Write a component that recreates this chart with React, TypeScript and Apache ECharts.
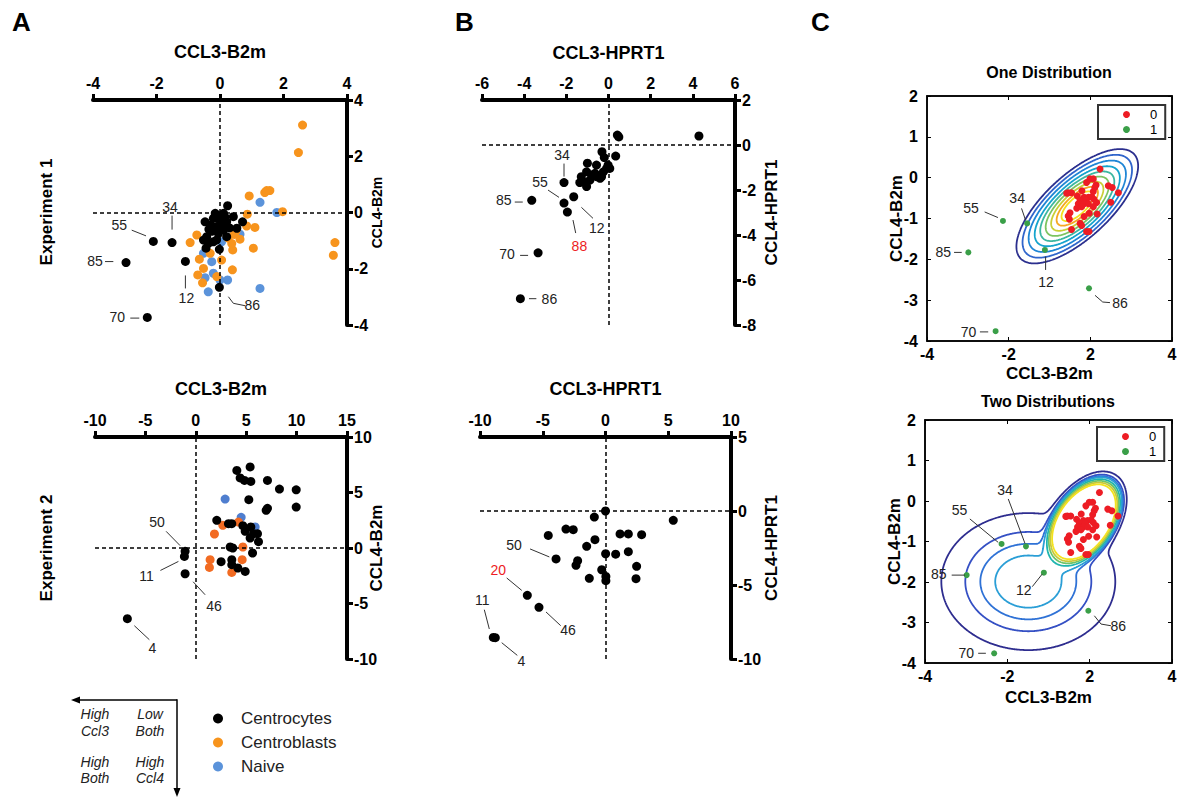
import React, { useEffect, useRef } from 'react';
import * as echarts from 'echarts';

// ================= DATA =================
// Panel A, Experiment 1 : CCL3-B2m (x) vs CCL4-B2m (y)
const A1_CENTROCYTES: [number, number][] = [
  [0.24, 0.24], [0.53, -0.56], [0.71, -0.33], [0.42, -0.15], [-0.02, -1.31], [-0.47, -0.33],
  [-0.42, -0.86], [-0.52, -0.98], [-0.44, -1.27], [-0.21, -1.04], [-0.11, -0.5], [0.0, -0.26],
  [0.11, -0.03], [-0.15, -0.03], [0.21, -0.86], [-0.26, -0.67], [0.11, -0.62], [-0.11, -0.98],
  [-0.37, -1.1], [0.05, -0.45], [0.21, -0.33], [-0.21, -0.21], [-0.05, -0.75], [-0.3, -0.45],
  [0.15, -0.15], [-0.35, -0.6], [0.3, -0.55], [-0.05, -0.12],
];
const A1_LABEL_IDS = ['34', '55', '85', '12', '86', '70'];
const A1_LABELED: [number, number][] = [
  [-1.51, -1.07], [-2.1, -1.03], [-2.96, -1.78], [-1.09, -1.74], [-0.02, -2.66], [-2.29, -3.73],
];
const A1_CENTROBLASTS: [number, number][] = [
  [2.6, 3.11], [2.47, 2.13], [1.47, 0.78], [1.57, 0.78], [1.41, 0.71], [0.92, 0.59], [1.97, 0.03],
  [0.86, -0.06], [0.84, -0.48], [1.1, -0.53], [3.62, -1.07], [3.57, -1.52], [1.05, -1.27],
  [0.63, -0.95], [0.4, -1.33], [0.37, -1.1], [0.39, -2.04], [0.05, -1.69], [-0.1, -2.28],
  [-0.52, -1.99], [-0.65, -1.66], [-0.7, -2.22], [-0.55, -2.5], [-0.94, -1.07], [-0.73, -0.8],
  [-0.31, -1.45], [0.45, -0.78], [0.5, -0.67], [0.26, -0.91],
];
const A1_NAIVE: [number, number][] = [
  [1.26, 0.36], [1.79, 0.0], [1.26, -2.7], [-0.37, -2.82], [0.24, -2.4], [0.0, -2.4], [-0.21, -2.16],
  [-0.47, -2.32], [-0.26, -1.75], [-0.52, -1.45], [0.63, -0.77], [0.05, -1.04],
];

// Panel A, Experiment 2
const A2_CENTROCYTES: [number, number][] = [
  [4.07, 6.99], [5.39, 7.3], [4.4, 6.31], [4.83, 6.09], [5.46, 6.0], [7.11, 6.09], [8.3, 5.31],
  [9.96, 5.24], [9.96, 3.69], [5.26, 4.35], [7.11, 3.57], [6.98, 3.39], [2.08, 2.49], [3.24, 2.19],
  [3.57, 2.19], [4.67, 2.01], [5.46, 1.89], [4.9, 1.5], [5.73, 1.29], [6.12, 1.29], [5.39, 0.9],
  [6.22, 0.57], [3.41, 0.09], [3.67, 0.0], [5.63, -0.45], [2.51, -1.23], [3.57, -1.05],
  [3.57, -1.5], [4.17, -1.8], [4.9, -2.11],
];
const A2_LABEL_IDS = ['50', '11', '46', '4'];
const A2_LABELED: [number, number][] = [[-1.06, -0.3], [-1.13, -0.76], [-1.06, -2.32], [-6.79, -6.37]];
const A2_CENTROBLASTS: [number, number][] = [
  [2.68, 2.04], [4.23, 2.34], [1.85, 1.26], [4.67, 0.09], [1.42, -1.05], [1.35, -1.75],
  [4.6, -1.05], [3.57, -2.2],
];
const A2_NAIVE: [number, number][] = [[2.91, 4.41], [4.5, 2.76], [5.89, 1.89]];

// Panel B, Experiment 1 : CCL3-HPRT1 vs CCL4-HPRT1
const B1_CELLS: [number, number][] = [
  [0.42, 0.44], [0.49, 0.36], [4.29, 0.4], [0.34, -0.49], [-0.31, -0.3], [-0.2, -0.56],
  [0.06, -1.04], [-0.02, -0.89], [-1.0, -0.81], [-0.57, -0.89], [-0.24, -1.19], [-0.64, -1.26],
  [-1.29, -1.41], [-1.36, -1.67], [-1.04, -1.85], [-0.88, -1.56], [-0.4, -1.48], [-1.04, -1.19],
  [-0.8, -1.33], [-1.2, -1.63], [-0.57, -1.41], [-0.33, -1.41], [-0.09, -1.04],
];
const B1_LABEL_IDS = ['34', '55', '85', '88', '12', '70', '86'];
const B1_LABELED: [number, number][] = [
  [-2.11, -1.67], [-2.11, -2.58], [-3.64, -2.46], [-1.95, -2.98], [-1.65, -2.3], [-3.34, -4.79],
  [-4.18, -6.83],
];
const B1_RED_IDS = ['88'];

// Panel B, Experiment 2
const B2_CELLS: [number, number][] = [
  [0, 0], [-0.89, -0.41], [5.4, -0.63], [-3.15, -1.22], [-2.57, -1.26], [-4.56, -1.65],
  [1.16, -1.55], [1.82, -1.55], [2.88, -1.6], [-0.84, -1.94], [-1.5, -2.39], [-2.22, -3.36],
  [-2.35, -3.67], [0.01, -2.89], [0.81, -2.92], [1.82, -2.75], [2.48, -3.74], [-0.3, -3.97],
  [0.03, -4.42], [0.03, -4.71], [-1.29, -4.55], [2.43, -4.57],
];
const B2_LABEL_IDS = ['50', '20', '46', '11', '4'];
const B2_LABELED: [number, number][] = [[-3.94, -3.24], [-6.23, -5.7], [-5.3, -6.51], [-8.94, -8.54], [-8.78, -8.56]];
const B2_RED_IDS = ['20'];

// Panel C : class 0 (cluster) and class 1 (outliers)
const C_CLASS0: [number, number][] = [
  [1.65, 0.21], [1.32, -0.03], [1.43, -0.03], [1.21, -0.12], [1.52, -0.18], [1.92, -0.2],
  [2.05, -0.24], [2.25, -0.37], [1.06, -0.32], [0.61, -0.37], [0.72, -0.37], [0.91, -0.45],
  [1.43, -0.34], [1.48, -0.24], [1.13, -0.48], [1.27, -0.48], [1.38, -0.47], [1.0, -0.55],
  [1.19, -0.55], [1.45, -0.53], [1.54, -0.61], [2.0, -0.6], [0.94, -0.64], [1.13, -0.64],
  [1.27, -0.64], [1.05, -0.71], [0.67, -0.86], [0.61, -0.94], [0.65, -1.02], [1.3, -0.87],
  [1.13, -0.95], [1.56, -0.89], [1.0, -1.12], [1.05, -1.17], [0.72, -1.27], [1.21, -1.32],
  [1.29, -1.32], [0.89, -0.75], [1.43, -0.71], [0.56, -0.38],
];
const C_CLASS1_IDS = ['55', '34', '12', '85', '86', '70'];
const C_CLASS1: [number, number][] = [
  [-1.52, -1.06], [-0.73, -1.12], [-0.15, -1.77], [-2.65, -1.83], [1.29, -2.71], [-1.76, -3.76],
];
const C_X_TICK_LABELS = ['-4', '-2', '2', '4'];

// Density models whose contours are drawn in panel C
// cov = [sxx, sxy, syy]
const C1_MEANS: [number, number][] = [[0.907, -0.7]];
const C1_COVS: [number, number, number][] = [[0.4377, 0.2172, 0.2174]];
const C1_PEAKS = [1];
const C1_LEVELS = [0.011, 0.026, 0.056, 0.11, 0.188, 0.296, 0.435, 0.594, 0.738];

const C2_MEANS: [number, number][] = [[1.15, -0.51], [-0.654, -1.99]];
const C2_COVS: [number, number, number][] = [[0.103, 0.0413, 0.0828], [1.678, 0, 0.605]];
const C2_PEAKS = [1000, 1];
const C2_LEVELS = [0.094, 0.289, 0.487, 0.71, 1.3, 2.2, 3.6, 6];

// ================= STYLE =================
const FONT = '"Liberation Sans", Arial, Helvetica, sans-serif';
const ORANGE_1 = '#F7941D';
const BLUE_1 = '#5B93DA';
const ORANGE_2 = '#F26B22';
const BLUE_2 = '#4F7ECF';
const RED = '#ED1C24';
const GREEN = '#3A9F48';
const C1_COLORS = ['#2b2f8e', '#3065cb', '#1e85d5', '#15a4cd', '#3db7a0', '#7cc460', '#c9cf35', '#f6a821', '#f4e01e'];
const C2_COLORS = ['#2e2d8f', '#3550c4', '#2f72d6', '#2a9ed6', '#1fb5ae', '#6ec46a', '#c8c83a', '#f3e21e'];

type Lay = { label: [number, number]; line: [number, number][] };
const A1_LAYOUT: Record<string, Lay> = {
  '34': { label: [-2, -36], line: [[0, -27], [0, -13]] },
  '55': { label: [-34, -16], line: [[-21.6, -11.3], [-7.3, -5.6]] },
  '85': { label: [-31, -2], line: [[-21, -1], [-12.7, -1]] },
  '12': { label: [1, 37], line: [[0, 14], [0, 27]] },
  '86': { label: [33, 18], line: [[9, 9.4], [14, 16], [25.7, 18.4]] },
  '70': { label: [-30, 0], line: [[-17, 0.7], [-8, 0.7]] },
};
const A2_LAYOUT: Record<string, Lay> = {
  '50': { label: [-28, -29], line: [[-19, -20], [-5, -5.7]] },
  '11': { label: [-38, 20], line: [[-24, 14], [-6, 5]] },
  '46': { label: [29, 32], line: [[8, 8], [20, 21]] },
  '4': { label: [25, 29], line: [[7, 7], [22, 21]] },
};
const B1_LAYOUT: Record<string, Lay> = {
  '34': { label: [-2, -28], line: [[0, -19], [0, -6]] },
  '55': { label: [-24, -21], line: [[-16, -13], [-5, -5.7]] },
  '85': { label: [-28, 0], line: [[-17, 1.7], [-9, 1.7]] },
  '88': { label: [12, 34], line: [[5.6, 8], [8.3, 21]] },
  '12': { label: [23, 31], line: [[7.7, 10.6], [19.3, 21.6]] },
  '70': { label: [-31, 1], line: [[-18, 2.6], [-10, 2.6]] },
  '86': { label: [29, 0.6], line: [[8.6, 0], [16, 0]] },
};
const B2_LAYOUT: Record<string, Lay> = {
  '50': { label: [-42, -14], line: [[-26, -10], [-6.7, -2]] },
  '20': { label: [-29, -25], line: [[-20.6, -17.4], [-5.6, -5]] },
  '46': { label: [29, 23], line: [[7, 4.6], [21.7, 18.3]] },
  '11': { label: [-11, -37], line: [[-9, -27.7], [-4, -8.4]] },
  '4': { label: [26, 23], line: [[6.4, 5], [22, 17.7]] },
};
const C1_LAYOUT: Record<string, Lay> = {
  '55': { label: [-32, -13], line: [[-18.3, -9], [-5, -3.4]] },
  '34': { label: [-10, -25], line: [[-5.6, -15], [-1.6, -3.3]] },
  '12': { label: [1, 32], line: [[0.7, 6.7], [0.7, 20]] },
  '85': { label: [-25, 0], line: [[-14.3, 0], [-6.6, 0]] },
  '86': { label: [31, 15], line: [[6, 7], [13.7, 13.7], [21, 14.3]] },
  '70': { label: [-27, 0.7], line: [[-15.7, 0.7], [-7.4, 0.7]] },
};
const C2_LAYOUT: Record<string, Lay> = {
  '55': { label: [-42, -34], line: [[-31.7, -25], [-3.4, -1.6]] },
  '34': { label: [-21, -56], line: [[-17.7, -47.4], [-1, -3]] },
  '12': { label: [-20, 17], line: [[-11.6, 14], [-1.6, 1.3]] },
  '85': { label: [-28, -1], line: [[-15, 0], [-1.7, 0]] },
  '86': { label: [30, 15], line: [[6, 5], [12.7, 13.3], [22.7, 15]] },
  '70': { label: [-28, -0.7], line: [[-16, 0], [-8.3, 0]] },
};

// ================= CONTOURS (marching squares) =================
const CASES: Record<number, number[][]> = {
  1: [[3, 0]], 2: [[0, 1]], 3: [[3, 1]], 4: [[1, 2]], 6: [[0, 2]], 7: [[3, 2]], 8: [[2, 3]],
  9: [[0, 2]], 11: [[1, 2]], 12: [[1, 3]], 13: [[0, 1]], 14: [[0, 3]],
};

function mixture(means: [number, number][], covs: [number, number, number][], peaks: number[]) {
  return (x: number, y: number) => {
    let s = 0;
    for (let k = 0; k < means.length; k++) {
      const [a, b, d] = covs[k];
      const det = a * d - b * b;
      const dx = x - means[k][0];
      const dy = y - means[k][1];
      const q = (d * dx * dx - 2 * b * dx * dy + a * dy * dy) / det;
      s += peaks[k] * Math.exp(-0.5 * q);
    }
    return s;
  };
}

function contourLines(f: (x: number, y: number) => number, levels: number[], colors: string[]) {
  const x0 = -4, x1 = 4, y0 = -4.2, y1 = 2.2, nx = 320, ny = 256;
  const dx = (x1 - x0) / nx, dy = (y1 - y0) / ny;
  const W = nx + 1;
  const g = new Float64Array(W * (ny + 1));
  for (let j = 0; j <= ny; j++) for (let i = 0; i <= nx; i++) g[j * W + i] = f(x0 + i * dx, y0 + j * dy);
  const V_OFF = (ny + 1) * W;
  const out: any[] = [];
  levels.forEach((L, li) => {
    const pts = new Map<number, [number, number]>();
    const point = (id: number): [number, number] => {
      let p = pts.get(id);
      if (p) return p;
      if (id < V_OFF) {
        const j = Math.floor(id / W), i = id % W;
        const a = g[j * W + i], b = g[j * W + i + 1];
        const t = (L - a) / (b - a);
        p = [x0 + (i + t) * dx, y0 + j * dy];
      } else {
        const k = id - V_OFF;
        const j = Math.floor(k / W), i = k % W;
        const a = g[j * W + i], b = g[(j + 1) * W + i];
        const t = (L - a) / (b - a);
        p = [x0 + i * dx, y0 + (j + t) * dy];
      }
      pts.set(id, p);
      return p;
    };
    const segs: [number, number][] = [];
    for (let j = 0; j < ny; j++) {
      for (let i = 0; i < nx; i++) {
        const v0 = g[j * W + i], v1 = g[j * W + i + 1], v2 = g[(j + 1) * W + i + 1], v3 = g[(j + 1) * W + i];
        const c = (v0 > L ? 1 : 0) | (v1 > L ? 2 : 0) | (v2 > L ? 4 : 0) | (v3 > L ? 8 : 0);
        if (c === 0 || c === 15) continue;
        const e = [j * W + i, V_OFF + j * W + i + 1, (j + 1) * W + i, V_OFF + j * W + i];
        let pairs: number[][];
        const mid = (v0 + v1 + v2 + v3) / 4 > L;
        if (c === 5) pairs = mid ? [[0, 1], [2, 3]] : [[3, 0], [1, 2]];
        else if (c === 10) pairs = mid ? [[3, 0], [1, 2]] : [[0, 1], [2, 3]];
        else pairs = CASES[c];
        for (const [a, b] of pairs) segs.push([e[a], e[b]]);
      }
    }
    const adj = new Map<number, number[]>();
    segs.forEach((s, idx) => {
      for (const k of s) {
        const l = adj.get(k);
        if (l) l.push(idx); else adj.set(k, [idx]);
      }
    });
    const used = new Uint8Array(segs.length);
    const nextFrom = (key: number) => {
      const l = adj.get(key) || [];
      for (const t of l) if (!used[t]) return t;
      return -1;
    };
    for (let s = 0; s < segs.length; s++) {
      if (used[s]) continue;
      used[s] = 1;
      const chain = [segs[s][0], segs[s][1]];
      let cur = segs[s][1];
      for (;;) {
        const n = nextFrom(cur);
        if (n < 0) break;
        used[n] = 1;
        cur = segs[n][0] === cur ? segs[n][1] : segs[n][0];
        chain.push(cur);
      }
      cur = segs[s][0];
      for (;;) {
        const n = nextFrom(cur);
        if (n < 0) break;
        used[n] = 1;
        cur = segs[n][0] === cur ? segs[n][1] : segs[n][0];
        chain.unshift(cur);
      }
      out.push({ coords: chain.map(point), lineStyle: { color: colors[li], width: 1.8, opacity: 1 } });
    }
  });
  return out;
}

// ================= HELPERS =================
const zeroLines = {
  silent: true,
  symbol: ['none', 'none'],
  label: { show: false },
  lineStyle: { color: '#000', type: [4, 3], width: 1.5 },
  emphasis: { disabled: true },
  data: [{ xAxis: 0 }, { yAxis: 0 }],
};

function scatter(name: string, axis: number, data: [number, number][], color: string, size: number, extra: any = {}) {
  return {
    type: 'scatter', name, xAxisIndex: axis, yAxisIndex: axis, data, symbol: 'circle', symbolSize: size,
    itemStyle: { color, opacity: 1 }, silent: true, z: 3, ...extra,
  };
}

function annoSeries(axis: number, ids: string[], pts: [number, number][], layout: Record<string, Lay>, red: string[] = []) {
  return {
    type: 'custom', name: 'labels' + axis, xAxisIndex: axis, yAxisIndex: axis, silent: true, z: 6,
    data: pts.map((p) => [p[0], p[1]]),
    renderItem: (params: any, api: any) => {
      const id = ids[params.dataIndex];
      const lay = layout[id];
      const c = api.coord([api.value(0), api.value(1)]);
      return {
        type: 'group',
        children: [
          {
            type: 'polyline',
            shape: { points: lay.line.map(([dx, dy]) => [c[0] + dx, c[1] + dy]) },
            style: { stroke: '#333', lineWidth: 1, fill: 'none' },
          },
          {
            type: 'text', x: c[0] + lay.label[0], y: c[1] + lay.label[1],
            style: {
              text: id, fill: red.includes(id) ? RED : '#222', font: `14px ${FONT}`,
              align: 'center', verticalAlign: 'middle', textAlign: 'center', textVerticalAlign: 'middle',
            },
          },
        ],
      };
    },
  };
}

const tickFont = { fontFamily: FONT, fontWeight: 'bold', fontSize: 16, color: '#000' };

function topX(grid: number, min: number, max: number, interval: number, name: string, nameGap: number) {
  return {
    gridIndex: grid, type: 'value', position: 'top', min, max, interval, name, nameLocation: 'middle', nameGap,
    nameMoveOverlap: false,
    nameTextStyle: { fontFamily: FONT, fontWeight: 'bold', fontSize: 18, color: '#000' },
    axisLine: { show: true, onZero: false, lineStyle: { color: '#000', width: 4 } },
    axisTick: { show: true, inside: false, length: 6, lineStyle: { color: '#000', width: 3 } },
    axisLabel: { ...tickFont, margin: 9, showMinLabel: true, showMaxLabel: true, hideOverlap: false },
    splitLine: { show: false },
  };
}
function rightY(grid: number, min: number, max: number, interval: number, name: string, nameGap: number, nameSize: number) {
  return {
    gridIndex: grid, type: 'value', position: 'right', min, max, interval, name, nameLocation: 'middle', nameGap,
    nameRotate: 90, nameMoveOverlap: false,
    nameTextStyle: { fontFamily: FONT, fontWeight: 'bold', fontSize: nameSize, color: '#000' },
    axisLine: { show: true, onZero: false, lineStyle: { color: '#000', width: 4 } },
    axisTick: { show: true, inside: false, length: 6, lineStyle: { color: '#000', width: 3 } },
    axisLabel: { ...tickFont, margin: 7, showMinLabel: true, showMaxLabel: true, hideOverlap: false },
    splitLine: { show: false },
  };
}

const C_X_TICKS = C_X_TICK_LABELS.map((_, i) => -4 + (i * 8) / (C_X_TICK_LABELS.length - 1));
const cXFormatter = (v: number) => {
  const i = C_X_TICKS.findIndex((t) => Math.abs(t - v) < 1e-6);
  return i >= 0 ? C_X_TICK_LABELS[i] : '';
};

function cBottomX(grid: number, nameGap: number) {
  return {
    gridIndex: grid, type: 'value', position: 'bottom', min: -4, max: 4, name: 'CCL3-B2m', nameLocation: 'middle',
    nameGap, nameMoveOverlap: false,
    nameTextStyle: { fontFamily: FONT, fontWeight: 'bold', fontSize: 17, color: '#000' },
    axisLine: { show: true, onZero: false, lineStyle: { color: '#000', width: 1.5 } },
    axisTick: { show: true, inside: true, length: 4, customValues: C_X_TICKS, lineStyle: { color: '#000', width: 1 } },
    axisLabel: { ...tickFont, margin: 5, customValues: C_X_TICKS, formatter: cXFormatter, showMinLabel: true, showMaxLabel: true, hideOverlap: false },
    splitLine: { show: false },
  };
}
function cTopX(grid: number) {
  return {
    gridIndex: grid, type: 'value', position: 'top', min: -4, max: 4,
    axisLine: { show: true, onZero: false, lineStyle: { color: '#000', width: 1.5 } },
    axisTick: { show: true, inside: true, length: 4, customValues: C_X_TICKS, lineStyle: { color: '#000', width: 1 } },
    axisLabel: { show: false },
    splitLine: { show: false },
  };
}
function cLeftY(grid: number) {
  return {
    gridIndex: grid, type: 'value', position: 'left', min: -4, max: 2, interval: 1, name: 'CCL4-B2m',
    nameLocation: 'middle', nameGap: 22, nameRotate: 90, nameMoveOverlap: false,
    nameTextStyle: { fontFamily: FONT, fontWeight: 'bold', fontSize: 17, color: '#000' },
    axisLine: { show: true, onZero: false, lineStyle: { color: '#000', width: 1.5 } },
    axisTick: { show: true, inside: true, length: 4, lineStyle: { color: '#000', width: 1 } },
    axisLabel: { ...tickFont, margin: 9, showMinLabel: true, showMaxLabel: true, hideOverlap: false },
    splitLine: { show: false },
  };
}
function cRightY(grid: number) {
  return {
    gridIndex: grid, type: 'value', position: 'right', min: -4, max: 2, interval: 1,
    axisLine: { show: true, onZero: false, lineStyle: { color: '#000', width: 1.5 } },
    axisTick: { show: true, inside: true, length: 4, lineStyle: { color: '#000', width: 1 } },
    axisLabel: { show: false },
    splitLine: { show: false },
  };
}

function contourSeries(axis: number, data: any[]) {
  return {
    type: 'lines', name: 'contours' + axis, coordinateSystem: 'cartesian2d', xAxisIndex: axis, yAxisIndex: axis,
    polyline: true, silent: true, z: 1, symbol: ['none', 'none'],
    lineStyle: { width: 1.8, opacity: 1 }, data,
  };
}

function cLegend(left: number, top: number) {
  return {
    data: ['0', '1'], orient: 'vertical', left, top, selectedMode: false, icon: 'circle',
    itemWidth: 7, itemHeight: 7, itemGap: 2,
    borderColor: '#333', borderWidth: 2, borderRadius: 0, padding: [3, 8, 3, 25],
    textStyle: { fontFamily: FONT, fontSize: 13, lineHeight: 13, color: '#000', padding: [0, 0, 0, 15] },
  };
}

function txt(text: string, x: number, y: number, font: string, extra: any = {}) {
  const { align = 'left', vAlign = 'top', rotation = 0, fill = '#000' } = extra;
  return {
    type: 'text', x, y, rotation, silent: true,
    style: { text, font, fill, align, verticalAlign: vAlign, textAlign: align, textVerticalAlign: vAlign },
  };
}

function buildOption() {
  const c1Lines = contourLines(mixture(C1_MEANS, C1_COVS, C1_PEAKS), C1_LEVELS, C1_COLORS);
  const c2Lines = contourLines(mixture(C2_MEANS, C2_COVS, C2_PEAKS), C2_LEVELS, C2_COLORS);
  const italic = `italic 14px ${FONT}`;
  return {
    animation: false,
    backgroundColor: '#ffffff',
    textStyle: { fontFamily: FONT },
    grid: [
      { left: 93, top: 100, width: 254, height: 225, outerBoundsMode: 'none' },
      { left: 95, top: 437, width: 252, height: 222, outerBoundsMode: 'none' },
      { left: 482, top: 100, width: 253, height: 225, outerBoundsMode: 'none' },
      { left: 480, top: 437, width: 251, height: 222, outerBoundsMode: 'none' },
      { left: 927, top: 96, width: 245, height: 245, outerBoundsMode: 'none', show: true, borderColor: '#000', borderWidth: 1.5, backgroundColor: 'transparent' },
      { left: 925, top: 420, width: 247, height: 243, outerBoundsMode: 'none', show: true, borderColor: '#000', borderWidth: 1.5, backgroundColor: 'transparent' },
    ],
    xAxis: [
      topX(0, -4, 4, 2, 'CCL3-B2m', 39),
      topX(1, -10, 15, 5, 'CCL3-B2m', 39),
      topX(2, -6, 6, 2, 'CCL3-HPRT1', 38),
      topX(3, -10, 10, 5, 'CCL3-HPRT1', 39),
      cBottomX(4, 24),
      cTopX(4),
      cBottomX(5, 26),
      cTopX(5),
    ],
    yAxis: [
      rightY(0, -4, 4, 2, 'CCL4-B2m', 23, 14),
      rightY(1, -10, 10, 5, 'CCL4-B2m', 21, 17),
      rightY(2, -8, 2, 2, 'CCL4-HPRT1', 28, 17),
      rightY(3, -10, 5, 5, 'CCL4-HPRT1', 32, 17),
      cLeftY(4),
      cRightY(4),
      cLeftY(5),
      cRightY(5),
    ],
    legend: [
      {
        data: ['Centrocytes', 'Centroblasts', 'Naive'], orient: 'vertical', left: 213, top: 709, padding: 0,
        selectedMode: false, icon: 'circle', itemWidth: 10, itemHeight: 10, itemGap: 5,
        textStyle: { fontFamily: FONT, fontSize: 17, lineHeight: 19, color: '#222', padding: [0, 0, 0, 13] },
      },
      cLegend(1098, 105),
      cLegend(1097, 427),
    ],
    series: [
      // A1
      scatter('Naive', 0, A1_NAIVE, BLUE_1, 9, { markLine: zeroLines, z: 2 }),
      scatter('Centroblasts', 0, A1_CENTROBLASTS, ORANGE_1, 9),
      scatter('Centrocytes', 0, [...A1_CENTROCYTES, ...A1_LABELED], '#000', 9, { z: 4 }),
      annoSeries(0, A1_LABEL_IDS, A1_LABELED, A1_LAYOUT),
      // A2
      scatter('Naive', 1, A2_NAIVE, BLUE_2, 9, { markLine: zeroLines, z: 2 }),
      scatter('Centroblasts', 1, A2_CENTROBLASTS, ORANGE_2, 9),
      scatter('Centrocytes', 1, [...A2_CENTROCYTES, ...A2_LABELED], '#000', 9, { z: 4 }),
      annoSeries(1, A2_LABEL_IDS, A2_LABELED, A2_LAYOUT),
      // B1
      scatter('B1 cells', 2, [...B1_CELLS, ...B1_LABELED], '#000', 9, { markLine: zeroLines }),
      annoSeries(2, B1_LABEL_IDS, B1_LABELED, B1_LAYOUT, B1_RED_IDS),
      // B2
      scatter('B2 cells', 3, [...B2_CELLS, ...B2_LABELED], '#000', 9, { markLine: zeroLines }),
      annoSeries(3, B2_LABEL_IDS, B2_LABELED, B2_LAYOUT, B2_RED_IDS),
      // C1
      contourSeries(4, c1Lines),
      scatter('1', 4, C_CLASS1, GREEN, 6),
      scatter('0', 4, C_CLASS0, RED, 7),
      annoSeries(4, C_CLASS1_IDS, C_CLASS1, C1_LAYOUT),
      // C2
      contourSeries(6, c2Lines),
      scatter('1', 6, C_CLASS1, GREEN, 6),
      scatter('0', 6, C_CLASS0, RED, 7),
      annoSeries(6, C_CLASS1_IDS, C_CLASS1, C2_LAYOUT),
    ],
    graphic: [
      txt('A', 12, 9, `bold 26px ${FONT}`),
      txt('B', 455, 9, `bold 26px ${FONT}`),
      txt('C', 811, 9, `bold 26px ${FONT}`),
      txt('Experiment 1', 46, 212, `bold 17px ${FONT}`, { align: 'center', vAlign: 'middle', rotation: Math.PI / 2 }),
      txt('Experiment 2', 46, 548, `bold 17px ${FONT}`, { align: 'center', vAlign: 'middle', rotation: Math.PI / 2 }),
      txt('One Distribution', 1049, 72, `bold 16px ${FONT}`, { align: 'center', vAlign: 'middle' }),
      txt('Two Distributions', 1048, 401, `bold 16px ${FONT}`, { align: 'center', vAlign: 'middle' }),
      { type: 'line', silent: true, shape: { x1: 177, y1: 700, x2: 76, y2: 700 }, style: { stroke: '#000', lineWidth: 1.5 } },
      { type: 'polygon', silent: true, shape: { points: [[71, 700], [80, 696.5], [80, 703.5]] }, style: { fill: '#000' } },
      { type: 'line', silent: true, shape: { x1: 177, y1: 699.3, x2: 177, y2: 792 }, style: { stroke: '#000', lineWidth: 1.5 } },
      { type: 'polygon', silent: true, shape: { points: [[177, 797], [173.5, 788], [180.5, 788]] }, style: { fill: '#000' } },
      txt('High', 95, 714, italic, { align: 'center', vAlign: 'middle', fill: '#222' }),
      txt('Ccl3', 95, 731, italic, { align: 'center', vAlign: 'middle', fill: '#222' }),
      txt('Low', 150, 714, italic, { align: 'center', vAlign: 'middle', fill: '#222' }),
      txt('Both', 150, 731, italic, { align: 'center', vAlign: 'middle', fill: '#222' }),
      txt('High', 95, 762, italic, { align: 'center', vAlign: 'middle', fill: '#222' }),
      txt('Both', 95, 778, italic, { align: 'center', vAlign: 'middle', fill: '#222' }),
      txt('High', 150, 762, italic, { align: 'center', vAlign: 'middle', fill: '#222' }),
      txt('Ccl4', 150, 778, italic, { align: 'center', vAlign: 'middle', fill: '#222' }),
    ],
  };
}

export default function App() {
  const ref = useRef<HTMLDivElement>(null);
  useEffect(() => {
    document.body.style.margin = '0';
    const chart = echarts.init(ref.current as HTMLDivElement, null, { renderer: 'svg' });
    chart.setOption(buildOption() as any);
    return () => chart.dispose();
  }, []);
  return <div ref={ref} style={{ width: 1177, height: 799, background: '#fff' }} />;
}
